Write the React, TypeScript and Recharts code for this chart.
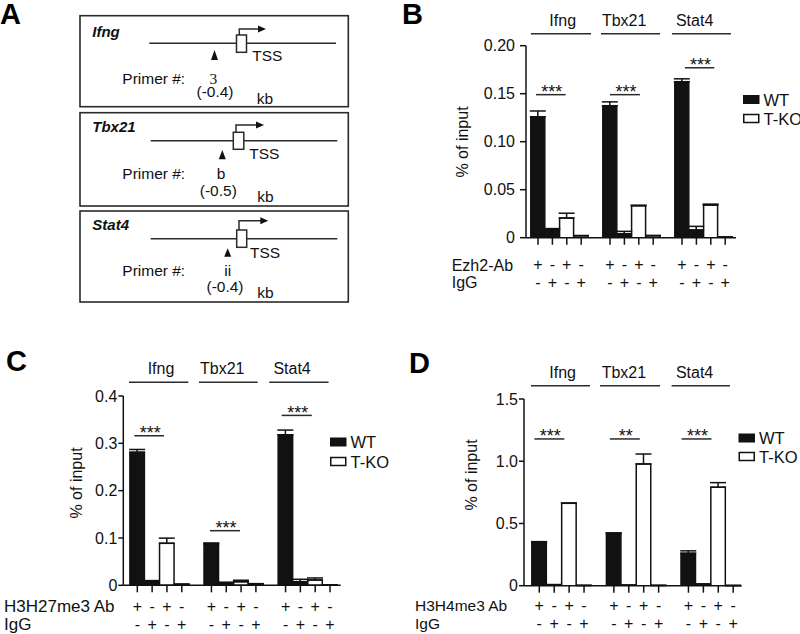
import React from 'react';
import { BarChart, Bar, XAxis, YAxis, Cell, ErrorBar, ReferenceLine, ReferenceDot } from 'recharts';

const FONT = '"Liberation Sans", Arial, Helvetica, sans-serif';
const INK = '#111';
const LINE = '#2a2a2a';

// ---------- data ----------
const GENES = ['Ifng', 'Tbx21', 'Stat4'];
const GENOTYPES = ['WT', 'WT', 'T-KO', 'T-KO'];
const AB_SIGNS = ['+', '-', '+', '-'];
const IGG_SIGNS = ['-', '+', '-', '+'];

// Panel B: Ezh2 ChIP (% of input), order per gene: WT Ab, WT IgG, T-KO Ab, T-KO IgG
const ezh2Means = [0.126, 0.009, 0.0205, 0.002, 0.1375, 0.004, 0.0333, 0.002, 0.1625, 0.008, 0.034, 0.0006];
const ezh2Errors = [0.006, 0.0005, 0.005, 0.0003, 0.004, 0.0026, 0.0006, 0.0004, 0.003, 0.0038, 0.001, 0.0001];
const ezh2Stars = ['***', '***', '***'];
const ezh2StarLevels = [0.149, 0.149, 0.177];

// Panel C: H3K27me3 ChIP
const k27Means = [0.281, 0.009, 0.0887, 0.002, 0.0875, 0.0055, 0.0077, 0.003, 0.318, 0.0077, 0.011, 0.001];
const k27Errors = [0.006, 0.001, 0.011, 0.0003, 0.002, 0.001, 0.003, 0.0005, 0.01, 0.005, 0.0045, 0.0002];
const k27Stars = ['***', '***', '***'];
const k27StarLevels = [0.316, 0.1154, 0.359];

// Panel D: H3K4me3 ChIP
const k4Means = [0.349, 0.008, 0.662, 0.002, 0.421, 0.004, 0.978, 0.002, 0.26, 0.012, 0.791, 0.001];
const k4Errors = [0.005, 0.001, 0.002, 0.0005, 0.003, 0.001, 0.08, 0.0005, 0.02, 0.002, 0.037, 0.0005];
const k4Stars = ['***', '**', '***'];
const k4StarLevels = [1.179, 1.179, 1.179];

// Panel A: primer diagrams
const A_GENES = ['Ifng', 'Tbx21', 'Stat4'];
const A_PRIMERS = ['3', 'b', 'ii'];
const A_POSITIONS = ['(-0.4)', '(-0.5)', '(-0.4)'];

function makeRows(means: number[], errors: number[]) {
  const rows: any[] = [];
  GENES.forEach((gene, g) => {
    GENOTYPES.forEach((geno, i) => {
      const k = g * 4 + i;
      rows.push({ slot: g * 5 + i, gene, geno, value: means[k], err: [0, errors[k]] });
    });
  });
  return rows;
}

// ---------- panel layout ----------
type PanelCfg = {
  left: number; top: number; width: number; height: number;
  margin: { top: number; right: number; bottom: number; left: number };
  yWidth: number; xHeight: number; xDomain: [number, number];
  yMax: number; yTicks: number[]; decimals: number;
  yTickSize: number; yTickMargin: number;
  barSize: number; signRows: [number, number];
  headerLevel: number; headerSpans: [number, number][]; headerStarts: number[];
  sigSpans: [number, number][];
  means: number[]; errors: number[]; stars: string[]; starLevels: number[];
};

const panelB: PanelCfg = {
  left: 400, top: 0, width: 400, height: 317,
  margin: { top: 45.7, right: 64, bottom: 0, left: 0 },
  yWidth: 126, xHeight: 79.3, xDomain: [-0.833, 13.75],
  yMax: 0.2, yTicks: [0, 0.05, 0.1, 0.15, 0.2], decimals: 2,
  yTickSize: 6, yTickMargin: 5,
  barSize: 14, signRows: [18, 35.3],
  headerLevel: 0.2125,
  headerSpans: [[-0.49, 3.68], [4.375, 8.47], [9.3, 13.4]],
  headerStarts: [0.79, 4.44, 9.58],
  sigSpans: [[-0.14, 1.92], [5.0, 7.08], [10.2, 12.24]],
  means: ezh2Means, errors: ezh2Errors, stars: ezh2Stars, starLevels: ezh2StarLevels,
};

const panelC: PanelCfg = {
  left: 0, top: 317, width: 400, height: 317,
  margin: { top: 79, right: 59.3, bottom: 0, left: 0 },
  yWidth: 123.3, xHeight: 48.7, xDomain: [-0.945, 13.72],
  yMax: 0.4, yTicks: [0, 0.1, 0.2, 0.3, 0.4], decimals: 1,
  yTickSize: 5, yTickMargin: 1,
  barSize: 14.5, signRows: [12.4, 29.7],
  headerLevel: 0.4289,
  headerSpans: [[-0.56, 3.44], [4.16, 8.12], [8.9, 12.9]],
  headerStarts: [0.7, 4.23, 9.18],
  sigSpans: [[-0.2, 1.8], [4.9, 6.93], [9.74, 11.77]],
  means: k27Means, errors: k27Errors, stars: k27Stars, starLevels: k27StarLevels,
};

const panelD: PanelCfg = {
  left: 400, top: 317, width: 400, height: 317,
  margin: { top: 82, right: 58.3, bottom: 0, left: 0 },
  yWidth: 124, xHeight: 48.3, xDomain: [-1.025, 13.57],
  yMax: 1.5, yTicks: [0, 0.5, 1.0, 1.5], decimals: 1,
  yTickSize: 5, yTickMargin: 1,
  barSize: 14.5, signRows: [10.3, 28.6],
  headerLevel: 1.607,
  headerSpans: [[-0.556, 3.4], [4.07, 8.09], [8.87, 12.78]],
  headerStarts: [0.67, 4.18, 9.16],
  sigSpans: [[-0.33, 1.68], [4.73, 6.74], [9.54, 11.55]],
  means: k4Means, errors: k4Errors, stars: k4Stars, starLevels: k4StarLevels,
};

function SignTick(props: any) {
  const { x, y, payload, rows } = props;
  const cond = Math.round(payload.value) % 5;
  const common = { textAnchor: 'middle' as const, dominantBaseline: 'central' as const, fontSize: 16, fontFamily: FONT, fill: INK };
  return (
    <g>
      <text x={x} y={y + rows[0]} {...common}>{AB_SIGNS[cond]}</text>
      <text x={x} y={y + rows[1]} {...common}>{IGG_SIGNS[cond]}</text>
    </g>
  );
}

function ChipPanel({ cfg }: { cfg: PanelCfg }) {
  const data = makeRows(cfg.means, cfg.errors);
  const slots = data.map((r) => r.slot);
  return (
    <div style={{ position: 'absolute', left: cfg.left, top: cfg.top, width: cfg.width, height: cfg.height }}>
      <BarChart width={cfg.width} height={cfg.height} data={data} margin={cfg.margin} barCategoryGap={0} barGap={0}>
        <XAxis
          type="number"
          dataKey="slot"
          domain={cfg.xDomain}
          ticks={slots}
          interval={0}
          allowDataOverflow
          height={cfg.xHeight}
          tickSize={7}
          tickMargin={2}
          axisLine={{ stroke: INK, strokeWidth: 1.5 }}
          tickLine={{ stroke: INK, strokeWidth: 1.5 }}
          tick={(p: any) => <SignTick {...p} rows={cfg.signRows} />}
        />
        <YAxis
          type="number"
          domain={[0, cfg.yMax]}
          ticks={cfg.yTicks}
          interval={0}
          allowDataOverflow
          width={cfg.yWidth}
          tickSize={cfg.yTickSize}
          tickMargin={cfg.yTickMargin}
          axisLine={{ stroke: INK, strokeWidth: 1.5 }}
          tickLine={{ stroke: INK, strokeWidth: 1.5 }}
          tick={{ fill: INK, fontSize: 16, fontFamily: FONT }}
          tickFormatter={(v: number) => (v === 0 ? '0' : v.toFixed(cfg.decimals))}
        />
        <Bar dataKey="value" barSize={cfg.barSize} isAnimationActive={false} stroke={INK} strokeWidth={1.5}>
          {data.map((r, i) => (
            <Cell key={i} fill={r.geno === 'WT' ? INK : '#ffffff'} />
          ))}
          <ErrorBar dataKey="err" direction="y" width={8} stroke={INK} strokeWidth={1.5} />
        </Bar>
        {GENES.map((gene, g) => (
          <ReferenceLine
            key={'h' + g}
            segment={[{ x: cfg.headerSpans[g][0], y: cfg.headerLevel }, { x: cfg.headerSpans[g][1], y: cfg.headerLevel }]}
            stroke={LINE}
            strokeWidth={1.5}
            ifOverflow="visible"
          />
        ))}
        {GENES.map((gene, g) => (
          <ReferenceDot
            key={'ht' + g}
            x={cfg.headerStarts[g]}
            y={cfg.headerLevel}
            r={0}
            ifOverflow="visible"
            shape={(p: any) => (
              <text x={p.cx} y={p.cy - 8} fontSize={16} fontFamily={FONT} fill={INK}>{gene}</text>
            )}
          />
        ))}
        {GENES.map((gene, g) => (
          <ReferenceLine
            key={'s' + g}
            segment={[{ x: cfg.sigSpans[g][0], y: cfg.starLevels[g] }, { x: cfg.sigSpans[g][1], y: cfg.starLevels[g] }]}
            stroke={LINE}
            strokeWidth={1.5}
            ifOverflow="visible"
          />
        ))}
        {GENES.map((gene, g) => (
          <ReferenceDot
            key={'st' + g}
            x={(cfg.sigSpans[g][0] + cfg.sigSpans[g][1]) / 2}
            y={cfg.starLevels[g]}
            r={0}
            ifOverflow="visible"
            shape={(p: any) => (
              <text x={p.cx + 1} y={p.cy + 3.5} fontSize={18} textAnchor="middle" fontFamily={FONT} fill={INK}>{cfg.stars[g]}</text>
            )}
          />
        ))}
      </BarChart>
    </div>
  );
}

// ---------- panel A diagram layout ----------
const A_LAYOUT = [
  { box: [80, 15.7, 268.3, 91], nameY: 31.7, lineY: 43.3, lineX: [149.3, 336], tss: [236.5, 35, 10, 17.3], arrowX: 239.3, arrowTop: 29, arrowEnd: 266, tssText: [252.3, 55.5], tri: [214.5, 50, 60], primerY: 78, labelX: 213.3, posX: 215, posY: 91.7, kb: [256.7, 98.3] },
  { box: [80, 112.7, 268.3, 93.3], nameY: 126.7, lineY: 140.7, lineX: [150.7, 337.3], tss: [233.3, 132.3, 10.5, 17], arrowX: 236, arrowTop: 125, arrowEnd: 264, tssText: [249.3, 153.3], tri: [222.3, 150, 159.3], primerY: 173.3, labelX: 221, posX: 218.3, posY: 190.7, kb: [257.3, 196] },
  { box: [80, 211, 268.3, 91], nameY: 224, lineY: 238.7, lineX: [150.7, 337.3], tss: [236.7, 230, 10, 17.3], arrowX: 239, arrowTop: 220.7, arrowEnd: 268.3, tssText: [250, 252.3], tri: [227.7, 248.3, 256.7], primerY: 270.7, labelX: 227.7, posX: 225, posY: 286, kb: [257.3, 292.7] },
];

function PanelA() {
  const t = { fontFamily: FONT, fill: INK, fontSize: 15.5, dominantBaseline: 'central' as const };
  return (
    <g>
      {A_LAYOUT.map((L, i) => {
        const [bx, by, bw, bh] = L.box;
        const [tx, ty, tw, th] = L.tss;
        return (
          <g key={i}>
            <rect x={bx} y={by} width={bw} height={bh} fill="none" stroke={LINE} strokeWidth={1.6} />
            <text x={92.3} y={L.nameY} {...t} fontSize={15} fontWeight="bold" fontStyle="italic">{A_GENES[i]}</text>
            <line x1={L.lineX[0]} y1={L.lineY} x2={L.lineX[1]} y2={L.lineY} stroke={LINE} strokeWidth={1.5} />
            <rect x={tx} y={ty} width={tw} height={th} fill="#fff" stroke={LINE} strokeWidth={1.5} />
            <polyline points={`${L.arrowX},${ty} ${L.arrowX},${L.arrowTop} ${L.arrowEnd - 7},${L.arrowTop}`} fill="none" stroke={LINE} strokeWidth={1.5} />
            <polygon points={`${L.arrowEnd - 8},${L.arrowTop - 3.5} ${L.arrowEnd},${L.arrowTop} ${L.arrowEnd - 8},${L.arrowTop + 3.5}`} fill={INK} />
            <text x={L.tssText[0]} y={L.tssText[1]} {...t}>TSS</text>
            <polygon points={`${L.tri[0] - 3.5},${L.tri[2]} ${L.tri[0]},${L.tri[1]} ${L.tri[0] + 3.5},${L.tri[2]}`} fill={INK} />
            <text x={122.3} y={L.primerY} {...t}>Primer #:</text>
            <text x={L.labelX} y={L.primerY} {...t} textAnchor="middle" fontFamily={i === 0 ? '"Liberation Serif", "Times New Roman", serif' : FONT}>{A_PRIMERS[i]}</text>
            <text x={L.posX} y={L.posY} {...t} textAnchor="middle">{A_POSITIONS[i]}</text>
            <text x={L.kb[0]} y={L.kb[1]} {...t}>kb</text>
          </g>
        );
      })}
    </g>
  );
}

function LegendBox({ x, y, rowGap }: { x: number; y: number; rowGap: number }) {
  const t = { fontFamily: FONT, fill: INK, fontSize: 16.5, dominantBaseline: 'central' as const };
  return (
    <g>
      <rect x={x} y={y - 4.5} width={16.5} height={9} fill={INK} />
      <text x={x + 20.5} y={y} {...t}>WT</text>
      <rect x={x + 0.75} y={y + rowGap - 4} width={15} height={8} fill="#fff" stroke={INK} strokeWidth={1.5} />
      <text x={x + 20.5} y={y + rowGap} {...t}>T-KO</text>
    </g>
  );
}

export default function App() {
  const letter = { fontFamily: FONT, fill: '#000', fontSize: 29, fontWeight: 'bold' as const, dominantBaseline: 'central' as const };
  const lab = { fontFamily: FONT, fill: INK, fontSize: 16, dominantBaseline: 'central' as const };
  return (
    <div style={{ position: 'absolute', left: 0, top: 0, width: 800, height: 634, background: '#fff', overflow: 'hidden' }}>
      <ChipPanel cfg={panelB} />
      <ChipPanel cfg={panelC} />
      <ChipPanel cfg={panelD} />
      <svg width={800} height={634} style={{ position: 'absolute', left: 0, top: 0, pointerEvents: 'none' }}>
        <PanelA />
        <text x={0} y={13.5} {...letter}>A</text>
        <text x={402} y={14} {...letter}>B</text>
        <text x={6} y={360.5} {...letter}>C</text>
        <text x={409} y={362.5} {...letter}>D</text>

        <text transform="translate(462,142) rotate(-90)" {...lab} textAnchor="middle">% of input</text>
        <text transform="translate(76,483) rotate(-90)" {...lab} textAnchor="middle">% of input</text>
        <text transform="translate(471.7,475) rotate(-90)" {...lab} textAnchor="middle">% of input</text>

        <text x={451.7} y={265} {...lab}>Ezh2-Ab</text>
        <text x={451.7} y={282.3} {...lab}>IgG</text>
        <text x={4} y={606.7} {...lab} fontSize={17}>H3H27me3 Ab</text>
        <text x={4} y={624} {...lab} fontSize={17}>IgG</text>
        <text x={415} y={605} {...lab} fontSize={15.5}>H3H4me3 Ab</text>
        <text x={415} y={623.3} {...lab} fontSize={15.5}>IgG</text>

        <LegendBox x={743} y={99.5} rowGap={19} />
        <LegendBox x={330} y={442} rowGap={19.5} />
        <LegendBox x={738.5} y={438} rowGap={18.5} />
      </svg>
    </div>
  );
}
